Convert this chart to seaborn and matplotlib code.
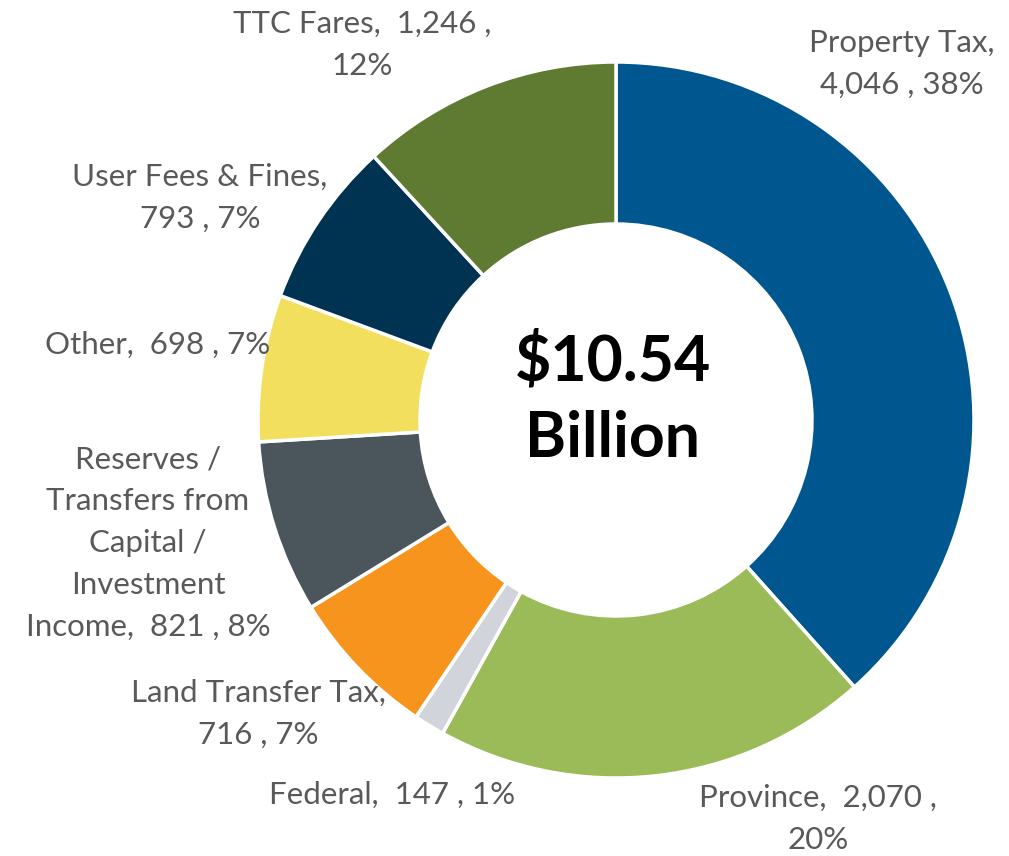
import numpy as np
import matplotlib
matplotlib.use("Agg")
import matplotlib.pyplot as plt
import seaborn as sns

# 2019 operating revenue sources ($ millions)
categories = ["Property Tax", "Province", "Federal", "Land Transfer Tax",
              "Reserves /\nTransfers from\nCapital /\nInvestment\nIncome",
              "Other", "User Fees & Fines", "TTC Fares"]
values = [4046, 2070, 147, 716, 821, 698, 793, 1246]
percents = [38, 20, 1, 7, 8, 7, 7, 12]
colors = ["#00578F", "#9BBB59", "#D1D4DB", "#F7941E",
          "#4B555C", "#F3DF5E", "#003352", "#5F7A31"]
center_text = "$10.54\nBillion"

# label text, split the way the reference wraps them
label_texts = [
    "Property Tax,\n4,046 , 38%",
    "Province,  2,070 ,\n20%",
    "Federal,  147 , 1%",
    "Land Transfer Tax,\n716 , 7%",
    "Reserves /\nTransfers from\nCapital /\nInvestment\nIncome,  821 , 8%",
    "Other,  698 , 7%",
    "User Fees & Fines,\n793 , 7%",
    "TTC Fares,  1,246 ,\n12%",
]
# label block centres in pixels (x, y from top)
label_pos = [(902, 64), (818, 819), (392, 795), (258, 714),
             (148, 543), (158, 345), (200, 198), (362, 45)]

sns.set_style("white")
plt.rcParams["font.family"] = ["Lato", "DejaVu Sans"]

W, H = 1009, 856
fig = plt.figure(figsize=(W / 100, H / 100), dpi=100)
ax = fig.add_axes([0, 0, 1, 1])

cx, cy, R = 616, H - 420, 358
ax.pie(values, colors=colors, startangle=90, counterclock=False,
       center=(cx, cy), radius=R,
       wedgeprops=dict(width=R - 196, edgecolor="white", linewidth=2.5),
       frame=True)
ax.set_xlim(0, W)
ax.set_ylim(0, H)
ax.set_aspect("equal")
ax.axis("off")

for txt, (x, y) in zip(label_texts, label_pos):
    ax.text(x, H - y, txt, ha="center", va="center", fontsize=22.5,
            color="#595959", linespacing=1.6)

ax.text(cx - 3, H - 400, center_text, ha="center", va="center",
        fontsize=45, fontweight="bold", color="black", linespacing=1.4)

fig.savefig("out.png", dpi=100, facecolor="white")
